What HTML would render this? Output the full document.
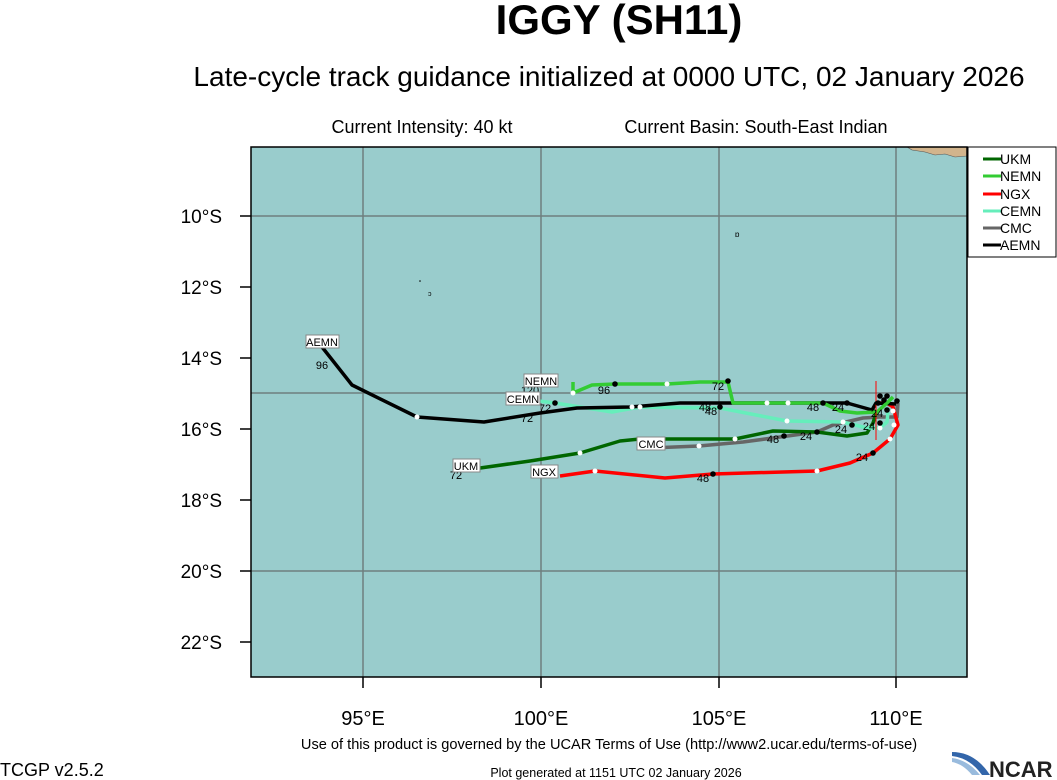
<!DOCTYPE html>
<html><head><meta charset="utf-8"><style>
html,body{margin:0;padding:0;background:#fff;}
svg{display:block;font-family:"Liberation Sans",Arial,sans-serif;}
</style></head><body>
<svg width="1057" height="780" viewBox="0 0 1057 780" xmlns="http://www.w3.org/2000/svg">
<text x="619" y="34" font-size="42" font-weight="bold" text-anchor="middle">IGGY (SH11)</text>
<text x="609" y="86" font-size="28" text-anchor="middle">Late-cycle track guidance initialized at 0000 UTC, 02 January 2026</text>
<text x="422" y="133" font-size="18" text-anchor="middle">Current Intensity: 40 kt</text>
<text x="756" y="133" font-size="18" text-anchor="middle">Current Basin: South-East Indian</text>

<rect x="251" y="147" width="716" height="530" fill="#99cccc"/>
<path d="M907,147 L912,150 L925,152 L935,155 L945,154 L955,157 L967,156 L967,147 Z" fill="#d2b48c" stroke="#555" stroke-width="0.6"/>
<g stroke="#6f7f7f" stroke-width="1.5">
<line x1="363" y1="147" x2="363" y2="677"/><line x1="541" y1="147" x2="541" y2="677"/>
<line x1="719" y1="147" x2="719" y2="677"/><line x1="896" y1="147" x2="896" y2="677"/>
<line x1="251" y1="216" x2="967" y2="216"/><line x1="251" y1="393" x2="967" y2="393"/>
<line x1="251" y1="571" x2="967" y2="571"/>
</g>
<rect x="251" y="147" width="716" height="530" fill="none" stroke="#000" stroke-width="1.5"/>
<g stroke="#000" stroke-width="1.5">
<line x1="240" y1="216" x2="251" y2="216"/><line x1="240" y1="287" x2="251" y2="287"/>
<line x1="240" y1="358" x2="251" y2="358"/><line x1="240" y1="429" x2="251" y2="429"/>
<line x1="240" y1="500" x2="251" y2="500"/><line x1="240" y1="571" x2="251" y2="571"/>
<line x1="240" y1="642" x2="251" y2="642"/>
<line x1="363" y1="677" x2="363" y2="688"/><line x1="541" y1="677" x2="541" y2="688"/>
<line x1="719" y1="677" x2="719" y2="688"/><line x1="896" y1="677" x2="896" y2="688"/>
</g>
<g font-size="19" text-anchor="end">
<text x="222" y="223">10°S</text><text x="222" y="294">12°S</text><text x="222" y="365">14°S</text>
<text x="222" y="436">16°S</text><text x="222" y="507">18°S</text><text x="222" y="578">20°S</text>
<text x="222" y="649">22°S</text>
</g>
<g font-size="20" text-anchor="middle">
<text x="363" y="725">95°E</text><text x="541" y="725">100°E</text><text x="719" y="725">105°E</text><text x="896" y="725">110°E</text>
</g>
<circle cx="420" cy="281" r="0.8" fill="#000"/><text x="428" y="296" font-size="7">ɔ</text>
<text x="735" y="237" font-size="8">ɒ</text>

<g fill="none" stroke-linejoin="round" stroke-width="3.5">
<polyline stroke="#666666" points="650,448 699,446 743,442 817,432 833,425 863,418 880,417 897,417 898,403"/>
<polyline stroke="#006600" points="466,470 530,461 580,453 620,441 640,439 700,439 735,439 773,431 817,432 847,436 867,433 873,423 877,410"/>
<polyline stroke="#ff0000" points="560,476 595,471 665,478 713,474 817,471 850,463 873,453 890,439 898,425 893,407 887,403 876,403"/>
<polyline stroke="#66eebb" points="523,399 555,403 612,412 640,407 720,408 787,421 843,422 867,428 880,428 887,422 888,412"/>
<polyline stroke="#000000" points="322,347 352,385 417,417 484,422 540,413 577,408 630,407 680,403 847,403 872,410 876,403 896,404"/>
<polyline stroke="#33cc33" points="573,382 573,393 592,385 615,384 667,384 700,382 728,382 733,403 823,403 840,411 857,413 877,412 887,403 893,397"/>
</g>
<line x1="876" y1="381" x2="876" y2="440" stroke="#ff0000" stroke-width="1"/>
<g fill="#fff">
<circle cx="580" cy="453" r="2.5"/><circle cx="735" cy="439" r="2.5"/><circle cx="699" cy="446" r="2.5"/>
<circle cx="595" cy="471" r="2.5"/><circle cx="817" cy="471" r="2.5"/><circle cx="890" cy="439" r="2.5"/><circle cx="894" cy="425" r="2.5"/>
<circle cx="667" cy="384" r="2.5"/><circle cx="767" cy="403" r="2.5"/><circle cx="788" cy="403" r="2.5"/>
<circle cx="632" cy="407" r="2.5"/><circle cx="640" cy="407" r="2.5"/><circle cx="787" cy="421" r="2.5"/><circle cx="843" cy="422" r="2.5"/><circle cx="880" cy="428" r="2.5"/><circle cx="893" cy="411" r="2.5"/>
<circle cx="417" cy="417" r="2.5"/><circle cx="573" cy="393" r="2.5"/>
</g>
<g fill="#000">
<circle cx="784" cy="436" r="2.8"/><circle cx="817" cy="432" r="2.8"/><circle cx="852" cy="425" r="2.8"/><circle cx="880" cy="423" r="2.8"/>
<circle cx="713" cy="474" r="2.8"/><circle cx="873" cy="453" r="2.8"/>
<circle cx="615" cy="384" r="2.8"/><circle cx="728" cy="381" r="2.8"/><circle cx="555" cy="403" r="2.8"/><circle cx="720" cy="407" r="2.8"/>
<circle cx="823" cy="403" r="2.8"/><circle cx="847" cy="403" r="2.8"/>
<circle cx="880" cy="396" r="2.8"/><circle cx="884" cy="400" r="2.8"/><circle cx="887" cy="396" r="2.8"/><circle cx="897" cy="401" r="2.8"/><circle cx="887" cy="410" r="2.8"/><circle cx="878" cy="403" r="2.8"/>
</g>
<g font-size="11" text-anchor="middle">
<text x="322" y="369">96</text><text x="604" y="394">96</text><text x="718" y="390">72</text><text x="545" y="412">72</text>
<text x="527" y="422">72</text><text x="456" y="479">72</text><text x="530" y="394">120</text>
<text x="705" y="411">48</text><text x="711" y="415">48</text><text x="813" y="411">48</text><text x="838" y="411">24</text>
<text x="773" y="443">48</text><text x="806" y="440">24</text><text x="841" y="433">24</text><text x="869" y="430">24</text>
<text x="703" y="482">48</text><text x="862" y="461">24</text><text x="877" y="417">24</text>
</g>
<g font-size="11" text-anchor="middle">
<rect x="306" y="335" width="33" height="13" fill="#fff" stroke="#888"/><text x="322" y="346">AEMN</text>
<rect x="524" y="374" width="34" height="13" fill="#fff" stroke="#888"/><text x="541" y="385">NEMN</text>
<rect x="506" y="392" width="34" height="13" fill="#fff" stroke="#888"/><text x="523" y="403">CEMN</text>
<rect x="453" y="459" width="27" height="13" fill="#fff" stroke="#888"/><text x="466" y="470">UKM</text>
<rect x="531" y="465" width="27" height="13" fill="#fff" stroke="#888"/><text x="544" y="476">NGX</text>
<rect x="637" y="437" width="28" height="13" fill="#fff" stroke="#888"/><text x="651" y="448">CMC</text>
</g>
<rect x="968" y="147" width="88" height="110" fill="#fff" stroke="#000" stroke-width="1"/>
<g stroke-width="3">
<line x1="983" y1="159" x2="1001" y2="159" stroke="#006600"/>
<line x1="983" y1="176" x2="1001" y2="176" stroke="#33cc33"/>
<line x1="983" y1="194" x2="1001" y2="194" stroke="#ff0000"/>
<line x1="983" y1="211" x2="1001" y2="211" stroke="#66eebb"/>
<line x1="983" y1="228" x2="1001" y2="228" stroke="#666666"/>
<line x1="983" y1="245" x2="1001" y2="245" stroke="#000000"/>
</g>
<g font-size="14">
<text x="1000" y="164">UKM</text><text x="1000" y="181">NEMN</text><text x="1000" y="199">NGX</text>
<text x="1000" y="216">CEMN</text><text x="1000" y="233">CMC</text><text x="1000" y="250">AEMN</text>
</g>
<text x="609" y="749" font-size="14.6" text-anchor="middle">Use of this product is governed by the UCAR Terms of Use (http://www2.ucar.edu/terms-of-use)</text>
<text x="0" y="776" font-size="18">TCGP v2.5.2</text>
<text x="616" y="777" font-size="12.5" text-anchor="middle">Plot generated at 1151 UTC   02 January 2026</text>
<path d="M952,752 Q975,752 990,775 L982,775 Q970,758 952,756 Z" fill="#3366aa"/>
<path d="M952,758 Q968,760 980,775 L972,775 Q963,764 952,762 Z" fill="#99bbdd"/>
<text x="989" y="777" font-size="22" font-weight="bold" fill="#222">NCAR</text>
</svg>
</body></html>
